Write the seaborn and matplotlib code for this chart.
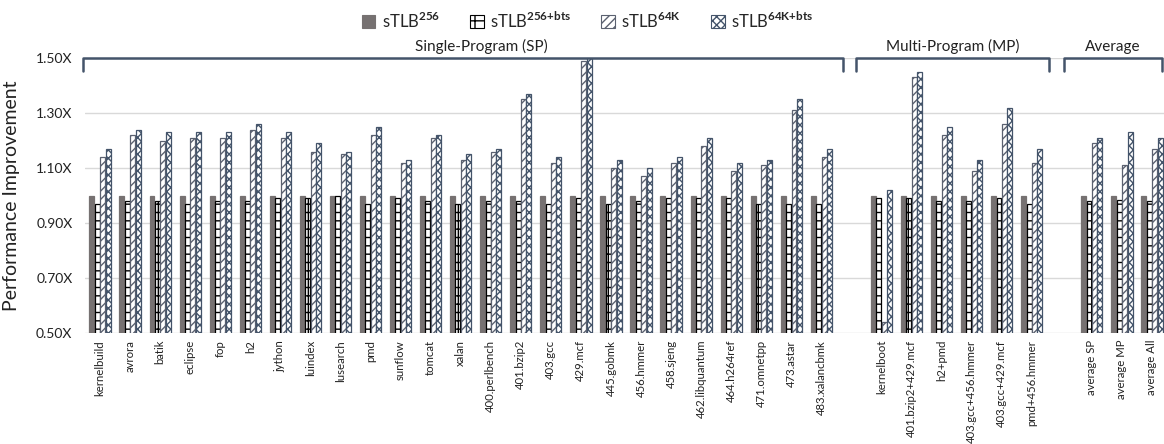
import numpy as np
import pandas as pd
import matplotlib
matplotlib.use("Agg")
import matplotlib.pyplot as plt
import matplotlib.transforms as mtransforms
from matplotlib.patches import Patch
from matplotlib.ticker import FuncFormatter
import seaborn as sns

categories = ["kernelbuild", "avrora", "batik", "eclipse", "fop", "h2", "jython",
              "luindex", "lusearch", "pmd", "sunflow", "tomcat", "xalan",
              "400.perlbench", "401.bzip2", "403.gcc", "429.mcf", "445.gobmk",
              "456.hmmer", "458.sjeng", "462.libquantum", "464.h264ref",
              "471.omnetpp", "473.astar", "483.xalancbmk",
              " ",
              "kernelboot", "401.bzip2+429.mcf", "h2+pmd", "403.gcc+456.hmmer",
              "403.gcc+429.mcf", "pmd+456.hmmer",
              "  ",
              "average SP", "average MP", "average All"]

stlb256 = [1.00] * 25 + [np.nan] + [1.00] * 6 + [np.nan] + [1.00] * 3
stlb256_bts = [0.97, 0.98, 0.98, 0.97, 0.98, 0.98, 0.99, 0.99, 1.00, 0.97, 0.99, 0.98, 0.97,
               0.98, 0.98, 0.97, 0.99, 0.97, 0.98, 0.99, 0.99, 0.99, 0.97, 0.97, 0.97,
               np.nan,
               0.99, 0.99, 0.98, 0.98, 0.99, 0.97,
               np.nan,
               0.98, 0.985, 0.98]
stlb64k = [1.14, 1.22, 1.20, 1.21, 1.21, 1.24, 1.21, 1.16, 1.15, 1.22, 1.12, 1.21, 1.13,
           1.16, 1.35, 1.12, 1.49, 1.10, 1.07, 1.12, 1.18, 1.09, 1.11, 1.31, 1.14,
           np.nan,
           0.54, 1.43, 1.22, 1.09, 1.26, 1.12,
           np.nan,
           1.19, 1.11, 1.17]
stlb64k_bts = [1.17, 1.24, 1.23, 1.23, 1.23, 1.26, 1.23, 1.19, 1.16, 1.25, 1.13, 1.22, 1.15,
               1.17, 1.37, 1.14, 1.51, 1.13, 1.10, 1.14, 1.21, 1.12, 1.13, 1.35, 1.17,
               np.nan,
               1.02, 1.45, 1.25, 1.13, 1.32, 1.17,
               np.nan,
               1.21, 1.23, 1.21]

series_names = ["sTLB256", "sTLB256+bts", "sTLB64K", "sTLB64K+bts"]
series_labels = [r"sTLB$^{\mathbf{256}}$", r"sTLB$^{\mathbf{256{+}bts}}$",
                 r"sTLB$^{\mathbf{64K}}$", r"sTLB$^{\mathbf{64K{+}bts}}$"]

groups = [("Single-Program (SP)", -0.57, 24.72),
          ("Multi-Program (MP)", 25.15, 31.57),
          ("Average", 32.07, 35.33)]

rows = []
for name, vals in zip(series_names, [stlb256, stlb256_bts, stlb64k, stlb64k_bts]):
    for c, v in zip(categories, vals):
        rows.append({"bench": c, "config": name, "value": v})
df = pd.DataFrame(rows)

sns.set_theme(style="white")
plt.rcParams["font.family"] = ["Lato", "DejaVu Sans"]
plt.rcParams["mathtext.fontset"] = "custom"
plt.rcParams["mathtext.rm"] = "Lato"
plt.rcParams["mathtext.bf"] = "Lato:bold"
plt.rcParams["hatch.linewidth"] = 1.0

fig = plt.figure(figsize=(11.64, 4.44), dpi=100)
ax = fig.add_axes([0.073, 0.25, 0.927, 0.619])

face = ["#767171", "white", "white", "white"]
edge = ["#767171", "black", "#5b6170", "#44546A"]
hatch = [None, "+-", "////", "xxxx"]

sns.barplot(data=df, x="bench", y="value", hue="config", order=categories,
            hue_order=series_names, width=0.72, gap=0.08, ax=ax,
            legend=False, errorbar=None)

for cont, fc, ec, h in zip(ax.containers, face, edge, hatch):
    for p in cont.patches:
        p.set_facecolor(fc)
        p.set_edgecolor(ec)
        p.set_linewidth(0.9)
        if h:
            p.set_hatch(h)

ax.set_ylim(0.5, 1.5)
ax.set_yticks([0.5, 0.7, 0.9, 1.1, 1.3, 1.5])
ax.yaxis.set_major_formatter(FuncFormatter(lambda v, _: f"{v:.2f}X"))
ax.set_xlim(-0.5, 35.4)
ax.grid(axis="y", color="#d9d9d9", linewidth=1.0)
ax.set_axisbelow(True)
for s in ax.spines.values():
    s.set_visible(False)
ax.tick_params(axis="y", length=0, pad=9, labelsize=10, labelcolor="#222222")
ax.tick_params(axis="x", length=0, pad=5, labelsize=8.2, labelcolor="#222222")
plt.setp(ax.get_xticklabels(), rotation=90)
ax.set_xlabel("")
ax.set_ylabel("Performance Improvement", fontsize=14, color="#222222")
ax.yaxis.set_label_coords(-0.06, 0.5)

trans = mtransforms.blended_transform_factory(ax.transData, ax.transAxes)
for label, x0, x1 in groups:
    ytop, ybot = 1.002, 0.955
    ax.plot([x0, x0, x1, x1], [ybot, ytop, ytop, ybot], transform=trans,
            color="#44546A", lw=1.8, clip_on=False, solid_joinstyle="round")
    xc = (x0 + x1) / 2 if label != "Single-Program (SP)" else 12.7
    ax.text(xc, 1.015, label, transform=trans, ha="center", va="bottom",
            fontsize=11, color="#222222", clip_on=False)

handles = [Patch(facecolor=fc, edgecolor=ec, hatch=h, linewidth=0.8)
           for fc, ec, h in zip(face, edge, hatch)]
fig.legend(handles, series_labels, loc="upper center", bbox_to_anchor=(0.505, 1.01),
           ncol=4, frameon=False, fontsize=12, handlelength=0.8, handleheight=0.8,
           columnspacing=1.8, handletextpad=0.4)

fig.savefig("out.png", dpi=100)
